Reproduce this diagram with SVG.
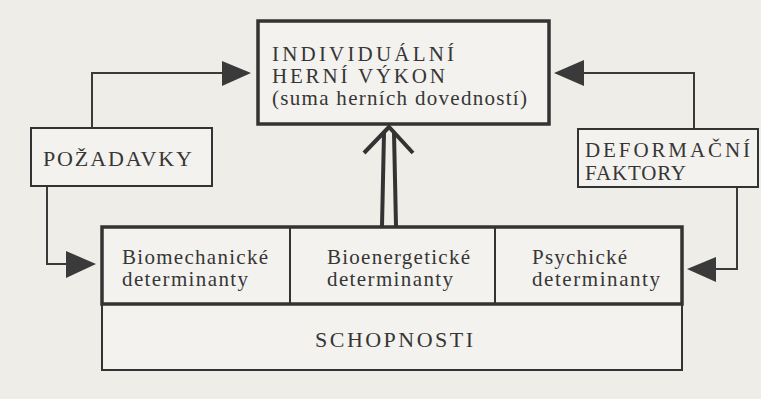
<svg xmlns="http://www.w3.org/2000/svg" width="761" height="399" viewBox="0 0 761 399">
<style>
.bg{fill:#eeede7}
.box{fill:#f3f2ee;stroke:#333;}
.thick{stroke-width:3.5}
.thin{stroke-width:2}
.t{font-family:"Liberation Serif","Times New Roman",serif;fill:#363636;font-size:21px}
.big{font-size:22px}
.con{fill:none;stroke:#3a3a3a;stroke-width:2}
.head{fill:#3a3a3a}
.dbl{fill:none;stroke:#333;stroke-width:4}
</style>
<rect class="bg" x="0" y="0" width="761" height="399"/>

<g id="connectors">
  <polyline class="con" points="92,127 92,73 224,73"/>
  <polygon class="head" points="222,61 251,73 222,86"/>
  <polyline class="con" points="694,128 694,73 582,73"/>
  <polygon class="head" points="584,60 554,73 584,86"/>
  <polyline class="con" points="47,186 47,264 68,264"/>
  <polygon class="head" points="66,251 96,264 66,278"/>
  <polyline class="con" points="737,187 737,269 714,269"/>
  <polygon class="head" points="716,257 687,269 716,282"/>
  <g id="double-arrow">
    <line class="dbl" x1="382" y1="226" x2="384" y2="133"/>
    <line class="dbl" x1="396" y1="226" x2="394" y2="133"/>
    <polyline class="dbl" points="364,153 389,127 413,153"/>
  </g>
</g>

<g id="performance">
  <rect class="box thick" x="258" y="21" width="291" height="103"/>
  <text class="t" x="272" y="61" textLength="182" lengthAdjust="spacing">INDIVIDUÁLNÍ</text>
  <text class="t" x="272" y="83" textLength="173" lengthAdjust="spacing">HERNÍ VÝKON</text>
  <text class="t" x="272" y="105" textLength="255" lengthAdjust="spacing">(suma herních dovedností)</text>
</g>

<g id="pozadavky">
  <rect class="box thin" x="31" y="128" width="181" height="58"/>
  <text class="t big" x="43" y="166" textLength="149" lengthAdjust="spacing">POŽADAVKY</text>
</g>

<g id="deformacni">
  <rect class="box thin" x="578" y="129" width="180" height="58"/>
  <text class="t" x="585" y="157" textLength="165" lengthAdjust="spacing">DEFORMAČNÍ</text>
  <text class="t" x="585" y="180" textLength="101" lengthAdjust="spacing">FAKTORY</text>
</g>

<g id="schopnosti">
  <rect class="box thin" x="102" y="304" width="580" height="66"/>
  <text class="t big" x="315" y="347" textLength="158" lengthAdjust="spacing">SCHOPNOSTI</text>
</g>

<g id="determinanty">
  <rect class="box thick" x="102" y="227" width="580" height="77"/>
  <line stroke="#333" stroke-width="2" x1="290" y1="227" x2="290" y2="304"/>
  <line stroke="#333" stroke-width="2" x1="495" y1="227" x2="495" y2="304"/>
</g>

<g id="biomechanicke">
  <text class="t" x="122" y="264" textLength="146" lengthAdjust="spacing">Biomechanické</text>
  <text class="t" x="122" y="286" textLength="126" lengthAdjust="spacing">determinanty</text>
</g>
<g id="bioenergeticke">
  <text class="t" x="327" y="264" textLength="143" lengthAdjust="spacing">Bioenergetické</text>
  <text class="t" x="327" y="286" textLength="126" lengthAdjust="spacing">determinanty</text>
</g>
<g id="psychicke">
  <text class="t" x="532" y="264" textLength="95" lengthAdjust="spacing">Psychické</text>
  <text class="t" x="532" y="286" textLength="128" lengthAdjust="spacing">determinanty</text>
</g>
</svg>
